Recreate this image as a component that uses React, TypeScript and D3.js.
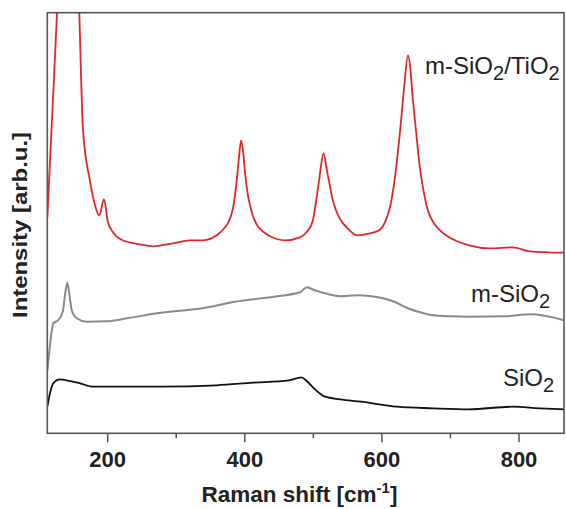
import React from "react";
import * as d3 from "d3";

// Raman shift (cm^-1) and intensity (arb.u.)
const tio2Shift = [112, 119, 126, 133, 144, 153, 158.6, 164, 174, 181.5, 187.7, 194.6, 200.4, 207.7, 222, 247, 266, 295, 320, 339, 359, 370, 378, 383, 386, 389, 391.5, 394.5, 397.5, 400, 403, 407.6, 412, 418, 428, 437, 458.7, 480.5, 490, 499, 504, 509, 514.8, 520, 524, 528, 533, 540, 548.5, 563.7, 582.6, 595.8, 605, 611.8, 617, 622, 628, 633, 638, 641.5, 644, 649.7, 653, 657, 662, 667, 675, 684.7, 706.6, 727, 757.8, 790.7, 816, 865.6];
const tio2Int = [216, 318, 420, 560, 680, 560, 420, 303, 253, 228, 218, 234, 211, 201, 193, 189, 187, 190, 193, 193, 198, 205, 214, 226, 240, 258, 276, 293, 282, 263, 245, 228, 217, 208, 201, 197, 193, 196, 201, 212, 232, 256, 280, 262, 248, 234, 223, 213, 206, 198, 200, 203, 212, 226, 246, 273, 313, 350, 378, 365, 343, 303, 280, 258, 238, 223, 211, 203, 193, 188, 185, 186, 182, 180.6];

const msio2Shift = [112, 115.8, 120.6, 127.5, 134.4, 137.7, 141, 144.3, 147.5, 154.8, 169, 199, 228, 272, 337.6, 385.7, 442.6, 480.5, 490.7, 502, 517, 540, 563.6, 585, 601.6, 620, 638, 656, 674.6, 700, 727, 779.6, 817, 865.6];
const msio2Int = [63, 88, 110, 113, 121.6, 138, 150.6, 138, 123, 115, 111.6, 112, 115, 120, 125, 131.6, 136.6, 141, 146, 143, 140, 137, 138, 137, 135, 131, 125, 121, 118, 117, 116.6, 117, 119, 113];

const sio2Shift = [112, 115.8, 120.6, 130.4, 140, 159.6, 178.5, 200.4, 279, 359, 411.5, 464.5, 482.6, 490.7, 501, 517, 539, 569.5, 622, 674.6, 727, 790.7, 830, 865.6];
const sio2Int = [26.6, 40, 50, 54, 53, 50, 46.6, 46.6, 46.6, 48, 50.6, 53, 56, 52, 45, 36.6, 34, 31.6, 26.6, 25, 24, 26.6, 25, 24];

const xMajorTicks = [200, 400, 600, 800];
const xMinorTicks = [300, 500, 700];

const W = 566, H = 509;
const left = 47.3, right = 564, top = 12.7, bottom = 433.3;

export default function App() {
  const x = d3.scaleLinear().domain([200, 800]).range([107.7, 519]);
  const y = d3.scaleLinear().domain([0, 420.6]).range([bottom, top]);
  const line = (xs: number[], ys: number[]) =>
    d3.line<number>().x((_, i) => x(xs[i])).y((_, i) => y(ys[i])).curve(d3.curveMonotoneX)(xs) || "";

  const labelFont = "'Liberation Sans', Arial, Helvetica, sans-serif";
  return (
    <svg width={W} height={H} style={{ position: "absolute", left: 0, top: 0, background: "#fff" }}>
      <defs>
        <clipPath id="plot">
          <rect x={left} y={top} width={right - left} height={bottom - top} />
        </clipPath>
      </defs>
      <g clipPath="url(#plot)" fill="none" strokeLinejoin="round">
        <path d={line(sio2Shift, sio2Int)} stroke="#111" strokeWidth={1.8} />
        <path d={line(msio2Shift, msio2Int)} stroke="#8a8a8a" strokeWidth={2} />
        <path d={line(tio2Shift, tio2Int)} stroke="#e2262b" strokeWidth={1.8} />
      </g>
      <rect x={left} y={top} width={right - left} height={bottom - top} fill="none" stroke="#555" strokeWidth={1.6} />
      {xMajorTicks.map((t) => (
        <line key={"M" + t} x1={x(t)} x2={x(t)} y1={bottom} y2={bottom + 9} stroke="#555" strokeWidth={1.5} />
      ))}
      {xMinorTicks.map((t) => (
        <line key={"m" + t} x1={x(t)} x2={x(t)} y1={bottom} y2={bottom + 5} stroke="#555" strokeWidth={1.5} />
      ))}
      {xMajorTicks.map((t) => (
        <text key={"l" + t} x={x(t)} y={466.5} textAnchor="middle" fontFamily={labelFont} fontWeight="bold" fontSize={22} fill="#222">
          {t}
        </text>
      ))}
      <text x={201.5} y={502} fontFamily={labelFont} fontWeight="bold" fontSize={22.5} fill="#222">
        Raman shift [cm<tspan dy={-9} fontSize={15}>-1</tspan><tspan dy={9}>]</tspan>
      </text>
      <text transform="translate(27,225) rotate(-90)" textAnchor="middle" fontFamily={labelFont} fontWeight="bold" fontSize={21} fill="#222" textLength={186} lengthAdjust="spacingAndGlyphs">
        Intensity [arb.u.]
      </text>
      <text x={425} y={73.5} fontFamily={labelFont} fontSize={24} fill="#222">
        m-SiO<tspan dy={6} fontSize={20}>2</tspan><tspan dy={-6}>/TiO</tspan><tspan dy={6} fontSize={20}>2</tspan>
      </text>
      <text x={471} y={302} fontFamily={labelFont} fontSize={24} fill="#222">
        m-SiO<tspan dy={6} fontSize={20}>2</tspan>
      </text>
      <text x={503} y={386} fontFamily={labelFont} fontSize={24} fill="#222">
        SiO<tspan dy={6} fontSize={20}>2</tspan>
      </text>
    </svg>
  );
}
